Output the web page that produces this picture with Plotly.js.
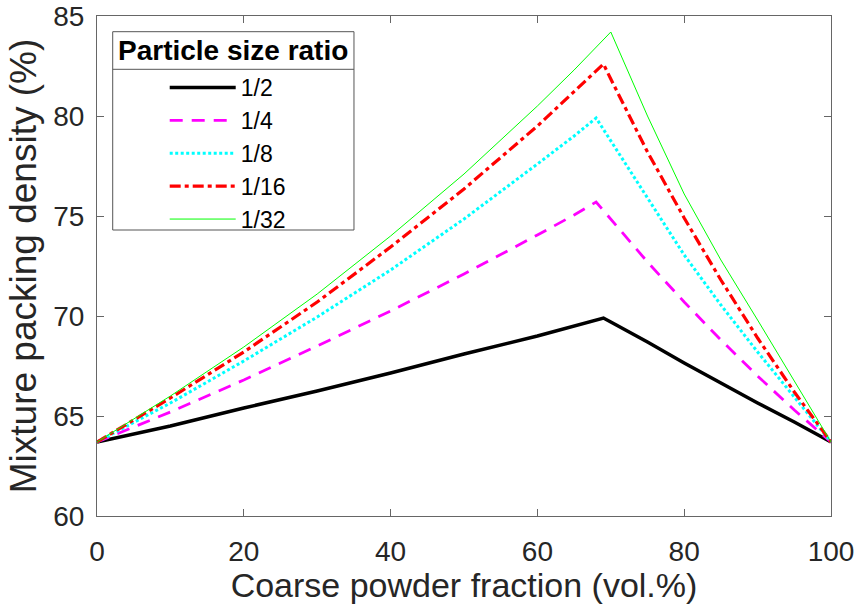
<!DOCTYPE html>
<html>
<head>
<meta charset="utf-8">
<script src="https://cdn.plot.ly/plotly-3.0.1.min.js"></script>
<style>
  html, body { margin: 0; padding: 0; background: #fff; }
  #chart { width: 860px; height: 604px; }
</style>
</head>
<body>
<div id="chart"></div>
<script>
// Coarse powder fraction (vol.%) sample positions for each curve
var x_r2  = [0, 10, 20, 30, 40, 50, 60, 69, 70, 75, 80, 85, 90, 95, 100];
var y_r2  = [63.7, 64.5, 65.4, 66.25, 67.15, 68.1, 69.0, 69.9, 69.7, 68.7, 67.65, 66.65, 65.65, 64.7, 63.7];

var x_r4  = [0, 10, 20, 30, 40, 50, 60, 65, 68, 70, 75, 80, 85, 90, 95, 100];
var y_r4  = [63.7, 65.2, 66.8, 68.5, 70.25, 72.1, 74.05, 75.05, 75.7, 74.85, 72.7, 70.7, 68.8, 67.0, 65.3, 63.7];

var x_r8  = [0, 10, 20, 30, 40, 50, 60, 65, 68, 70, 75, 80, 85, 90, 95, 100];
var y_r8  = [63.7, 65.65, 67.75, 69.95, 72.3, 74.85, 77.6, 79.0, 79.9, 78.75, 75.9, 73.05, 70.55, 68.2, 65.95, 63.7];

var x_r16 = [0, 10, 20, 30, 40, 50, 60, 65, 69, 70, 75, 80, 85, 90, 95, 100];
var y_r16 = [63.7, 65.9, 68.2, 70.7, 73.45, 76.35, 79.5, 81.2, 82.6, 81.85, 78.2, 74.9, 71.8, 68.9, 66.2, 63.7];

var x_r32 = [0, 10, 20, 30, 40, 50, 60, 65, 70, 75, 80, 85, 90, 95, 100];
var y_r32 = [63.7, 66.0, 68.45, 71.1, 74.0, 77.1, 80.5, 82.3, 84.2, 80.0, 76.1, 72.8, 69.8, 66.75, 63.7];

var seriesNames = ['1/2', '1/4', '1/8', '1/16', '1/32'];
var legendTitle = 'Particle size ratio';
var xTicks = [0, 20, 40, 60, 80, 100];
var yTicks = [60, 65, 70, 75, 80, 85];

var FONT = 'Liberation Sans, Arial, Helvetica, sans-serif';
var NB = '\u00A0';

var traces = [
  {x: x_r2,  y: y_r2,  name: seriesNames[0], mode: 'lines', line: {color: '#000000', width: 3.5}},
  {x: x_r4,  y: y_r4,  name: seriesNames[1], mode: 'lines', line: {color: '#FF00FF', width: 2.8, dash: '13px,9px'}},
  {x: x_r8,  y: y_r8,  name: seriesNames[2], mode: 'lines', line: {color: '#00FFFF', width: 3, dash: '3px,2.5px'}},
  {x: x_r16, y: y_r16, name: seriesNames[3], mode: 'lines', line: {color: '#FF0000', width: 3.2, dash: '11px,4px,4px,4px'}},
  {x: x_r32, y: y_r32, name: seriesNames[4], mode: 'lines', line: {color: '#00FF00', width: 1}}
];

var axisCommon = {
  showline: true, linecolor: '#666666', linewidth: 1, mirror: 'ticks',
  ticks: 'inside', ticklen: 7, tickcolor: '#666666', tickwidth: 1,
  showgrid: false, zeroline: false,
  tickfont: {family: FONT, size: 28, color: '#262626'}
};

// legend box corners in paper coordinates
var LX0 = 0.0214, LX1 = 0.3501, LY0 = 0.572, LY1 = 0.9686, LSEP = 0.8934;

var layout = {
  width: 860, height: 604,
  margin: {l: 97, r: 29, t: 16, b: 88},
  paper_bgcolor: '#ffffff', plot_bgcolor: '#ffffff',
  showlegend: true,
  xaxis: Object.assign({}, axisCommon, {
    range: [0, 100], tickvals: xTicks, ticktext: xTicks.map(String),
    ticklabelstandoff: 10,
    title: {text: 'Coarse powder fraction (vol.%)', font: {family: FONT, size: 34, color: '#262626'}, standoff: 3}
  }),
  yaxis: Object.assign({}, axisCommon, {
    range: [60, 85], tickvals: yTicks, ticktext: yTicks.map(String),
    ticklabelstandoff: 6,
    title: {text: 'Mixture packing density (%)' + NB + NB + NB + NB + NB + NB, font: {family: FONT, size: 37, color: '#262626'}, standoff: 5}
  }),
  legend: {
    x: LX0, y: 0.90, xanchor: 'left', yanchor: 'top',
    bgcolor: 'rgba(0,0,0,0)', borderwidth: 0,
    font: {family: FONT, size: 23, color: '#000000'},
    itemwidth: 66, indentation: 52, tracegroupgap: 0
  },
  annotations: [
    {xref: 'paper', yref: 'paper', x: (LX0 + LX1) / 2, y: 0.931, xanchor: 'center', yanchor: 'middle',
     text: '<b>' + legendTitle + '</b>', showarrow: false,
     font: {family: FONT, size: 28, color: '#000000'}}
  ],
  shapes: [
    {type: 'rect', xref: 'paper', yref: 'paper', x0: LX0, x1: LX1, y0: LY0, y1: LY1,
     line: {color: '#555555', width: 1}, fillcolor: 'rgba(0,0,0,0)'},
    {type: 'line', xref: 'paper', yref: 'paper', x0: LX0, x1: LX1, y0: LSEP, y1: LSEP,
     line: {color: '#555555', width: 1}}
  ]
};

Plotly.newPlot('chart', traces, layout, {displayModeBar: false, staticPlot: true});
</script>
</body>
</html>
